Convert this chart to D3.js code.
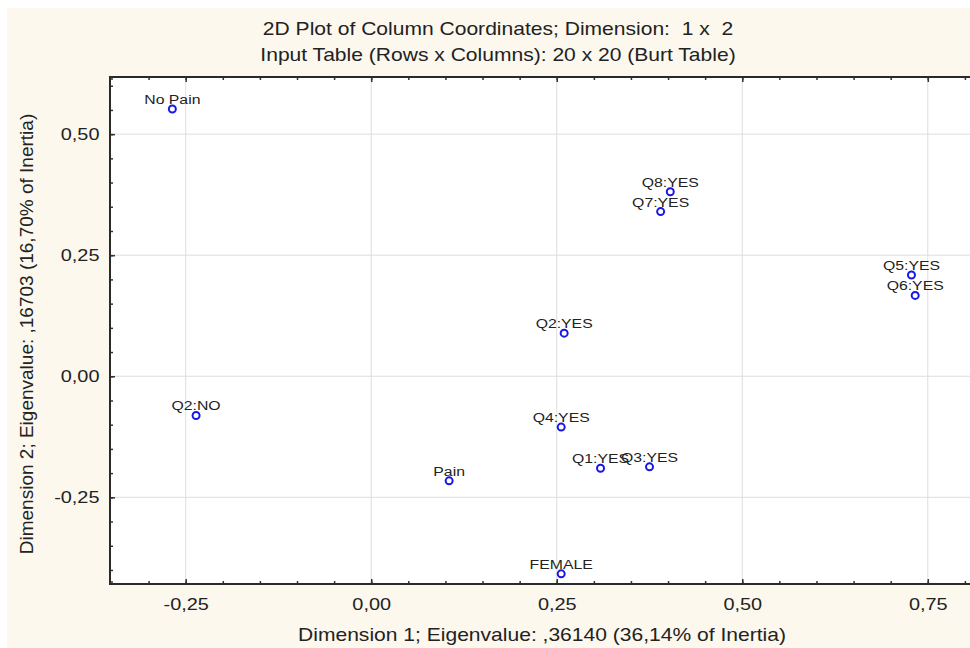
<!DOCTYPE html>
<html>
<head>
<meta charset="utf-8">
<script src="https://cdn.jsdelivr.net/npm/d3@7"></script>
<style>
  body { margin: 0; background: #fff; }
  svg { display: block; font-family: "Liberation Sans", Arial, sans-serif; }
  .title { white-space: pre; }
</style>
</head>
<body>
<svg id="chart" width="970" height="648"></svg>
<script>
// column coordinates (dimension 1, dimension 2)
var labels = ["No Pain", "Q8:YES", "Q7:YES", "Q5:YES", "Q6:YES", "Q2:YES",
              "Q4:YES", "Q1:YES", "Q3:YES", "FEMALE", "Q2:NO", "Pain"];
var dim1 = [-0.268, 0.403, 0.390, 0.728, 0.733, 0.260, 0.256, 0.309, 0.375, 0.256, -0.236, 0.105];
var dim2 = [ 0.552, 0.381, 0.340, 0.209, 0.167, 0.089, -0.105, -0.190, -0.187, -0.408, -0.081, -0.216];

var xTicks = [-0.25, 0, 0.25, 0.5, 0.75];
var yTicks = [-0.25, 0, 0.25, 0.5];

var titleLines = ["2D Plot of Column Coordinates; Dimension:  1 x  2",
                  "Input Table (Rows x Columns): 20 x 20 (Burt Table)"];
var xTitle = "Dimension 1; Eigenvalue: ,36140 (36,14% of Inertia)";
var yTitle = "Dimension 2; Eigenvalue: ,16703 (16,70% of Inertia)";

var SX = 1.17; // the picture is a bit wider than tall, text too

var svg = d3.select("#chart");
var plot = {left: 110, top: 77, bottom: 584};

var locale = d3.formatLocale({decimal: ",", thousands: ".", grouping: [3], currency: ["", ""], minus: "-"});
var fmt = locale.format(".2f");

var x = d3.scaleLinear().domain([-0.352, 0.85]).range([plot.left, plot.left + 892]);
var y = d3.scaleLinear().domain([-0.429, 0.618]).range([plot.bottom, plot.top]);

// background
svg.append("rect").attr("x", 7).attr("y", 8).attr("width", 963).attr("height", 640).attr("fill", "#fcf8ee");
svg.append("rect").attr("x", plot.left).attr("y", plot.top)
    .attr("width", 970 - plot.left).attr("height", plot.bottom - plot.top).attr("fill", "#fff");

// grid
svg.append("g").selectAll("line").data(xTicks).enter().append("line")
    .attr("x1", function(d){ return x(d); }).attr("x2", function(d){ return x(d); })
    .attr("y1", plot.top).attr("y2", plot.bottom)
    .attr("stroke", "#dedede").attr("stroke-width", 1);
svg.append("g").selectAll("line").data(yTicks).enter().append("line")
    .attr("x1", plot.left).attr("x2", 970)
    .attr("y1", function(d){ return y(d); }).attr("y2", function(d){ return y(d); })
    .attr("stroke", "#dedede").attr("stroke-width", 1);

// minor ticks
var xMinor = d3.range(-0.35, 0.851, 0.05);
var yMinor = d3.range(-0.40, 0.601, 0.05);

function styleAxis(g){
  g.select(".domain").remove();
  g.selectAll(".tick line").attr("stroke", "#333").attr("stroke-width", 1.5);
}

svg.append("g").attr("transform", "translate(0," + plot.bottom + ")")
    .call(d3.axisBottom(x).tickValues(xMinor).tickSize(-3).tickFormat(""))
    .call(styleAxis);
svg.append("g").attr("transform", "translate(0," + plot.top + ")")
    .call(d3.axisTop(x).tickValues(xMinor).tickSize(-3).tickFormat(""))
    .call(styleAxis);
svg.append("g").attr("transform", "translate(" + plot.left + ",0)")
    .call(d3.axisLeft(y).tickValues(yMinor).tickSize(-3).tickFormat(""))
    .call(styleAxis);

// major ticks + labels
var xAxis = svg.append("g").attr("transform", "translate(0," + plot.bottom + ")")
    .call(d3.axisBottom(x).tickValues(xTicks).tickSize(-5).tickPadding(14).tickFormat(fmt))
    .call(styleAxis);
xAxis.selectAll("text").attr("font-size", 17).attr("fill", "#222")
    .attr("font-family", "Liberation Sans, Arial, sans-serif")
    .attr("transform", "scale(" + SX + ",1)");

svg.append("g").attr("transform", "translate(0," + plot.top + ")")
    .call(d3.axisTop(x).tickValues(xTicks).tickSize(-5).tickFormat(""))
    .call(styleAxis);

var yAxis = svg.append("g").attr("transform", "translate(" + plot.left + ",0)")
    .call(d3.axisLeft(y).tickValues(yTicks).tickSize(-5).tickPadding(9).tickFormat(fmt))
    .call(styleAxis);
yAxis.selectAll("text").attr("font-size", 17).attr("fill", "#222")
    .attr("font-family", "Liberation Sans, Arial, sans-serif")
    .attr("transform", "scale(" + SX + ",1)");

// frame (left, bottom, top)
svg.append("path")
    .attr("d", "M970," + plot.top + "H" + plot.left + "V" + plot.bottom + "H970")
    .attr("fill", "none").attr("stroke", "#2a2a2a").attr("stroke-width", 2);

// points
var pts = svg.append("g");
pts.selectAll("circle").data(labels).enter().append("circle")
    .attr("cx", function(d, i){ return x(dim1[i]); })
    .attr("cy", function(d, i){ return y(dim2[i]); })
    .attr("r", 3.5)
    .attr("fill", "none").attr("stroke", "#1717e8").attr("stroke-width", 2);

pts.selectAll("text").data(labels).enter().append("text")
    .attr("transform", function(d, i){
      return "translate(" + x(dim1[i]) + "," + (y(dim2[i]) - 5) + ") scale(" + SX + ",1)"; })
    .attr("text-anchor", "middle").attr("font-size", 13.5).attr("fill", "#222")
    .text(function(d){ return d; });

// titles
svg.selectAll(".title").data(titleLines).enter().append("text")
    .attr("class", "title")
    .attr("transform", function(d, i){ return "translate(498," + (35 + i * 26) + ") scale(" + SX + ",1)"; })
    .attr("text-anchor", "middle").attr("font-size", 18).attr("fill", "#222")
    .text(function(d){ return d; });

svg.append("text")
    .attr("transform", "translate(542,641) scale(" + SX + ",1)")
    .attr("text-anchor", "middle").attr("font-size", 18).attr("fill", "#222")
    .text(xTitle);

svg.append("text")
    .attr("transform", "translate(33,334) rotate(-90)")
    .attr("text-anchor", "middle").attr("font-size", 19).attr("fill", "#222")
    .text(yTitle);
</script>
</body>
</html>
